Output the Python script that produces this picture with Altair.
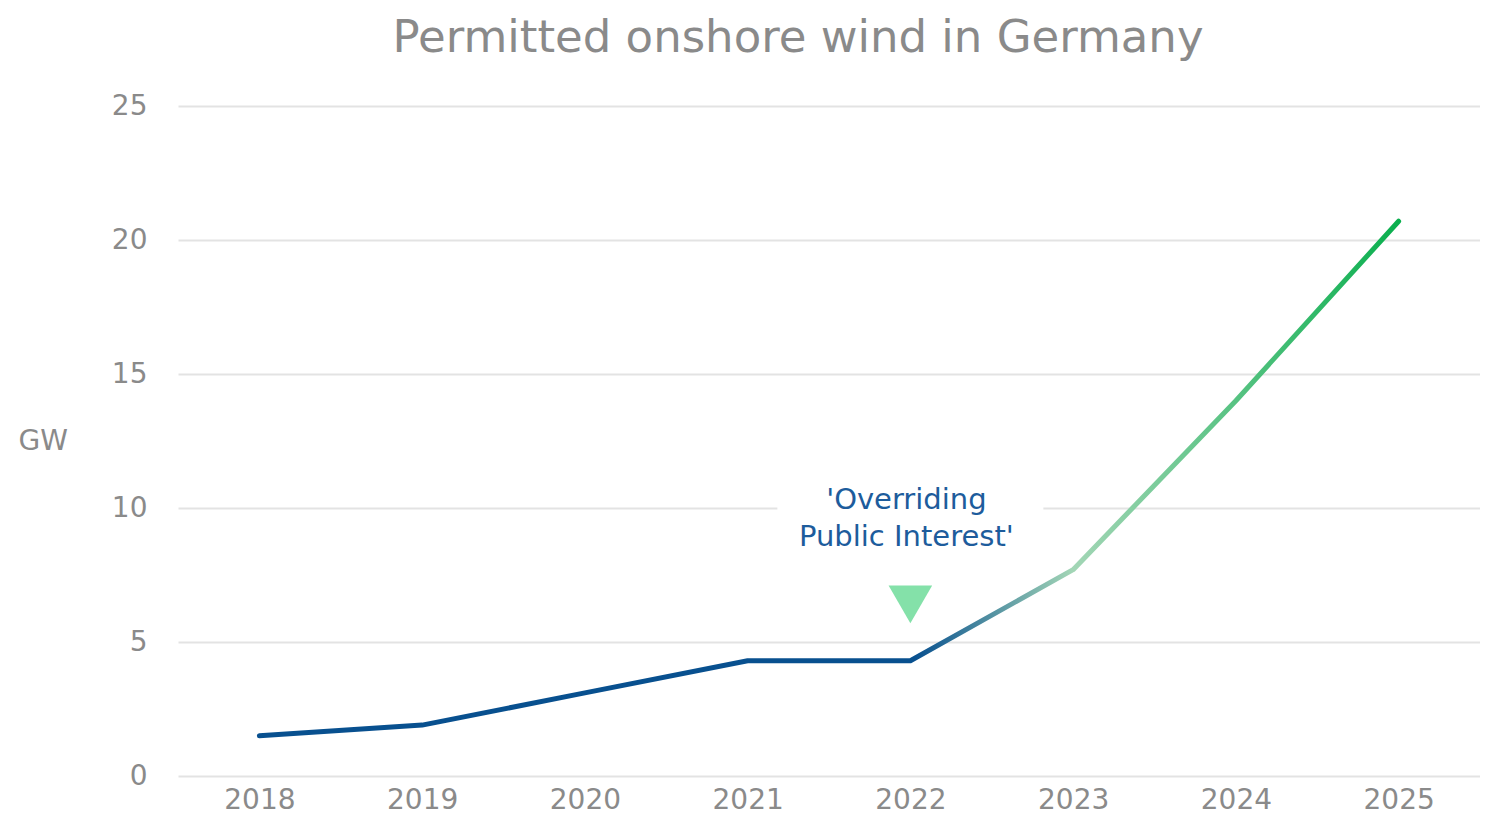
import altair as alt
import pandas as pd

years = ["2018", "2019", "2020", "2021", "2022", "2023", "2024", "2025"]
gw = [1.5, 1.9, 3.1, 4.3, 4.3, 7.7, 14.0, 20.7]

note_year = ["2022", "2022"]
note_lines = ["'Overriding", "Public Interest'"]
note_y = [10.3, 8.92]
box_year = ["2022"]
box_top = [11.4]
box_bottom = [8.4]
marker_year = ["2022"]
marker_y = [6.4]

FONT = "DejaVu Sans"
GREY = "#8a8a8a"

df = pd.DataFrame({"year": years, "gw": gw})
notes = pd.DataFrame({"year": note_year, "text": note_lines, "y": note_y})
box = pd.DataFrame({"year": box_year, "top": box_top, "bottom": box_bottom})
marker = pd.DataFrame({"year": marker_year, "y": marker_y})

xscale = alt.Scale(type="point", padding=0.5, domain=years)
xaxis = alt.Axis(title=None, labelAngle=0, labelFont=FONT, labelFontSize=28,
                 labelColor=GREY, labelPadding=10, ticks=False, domain=False, grid=False)
xenc = alt.X("year:O", sort=years, scale=xscale, axis=xaxis)

yscale = alt.Scale(domain=[0, 25], nice=False)
yaxis = alt.Axis(title="GW", titleAngle=0, titleFont=FONT, titleFontSize=28, titleFontWeight="normal",
                 titleColor=GREY, titleX=-160, titleY=335, titleAlign="left", titleBaseline="middle",
                 values=[0, 5, 10, 15, 20, 25], labelFont=FONT, labelFontSize=28, labelColor=GREY,
                 labelPadding=31, ticks=False, domain=False, gridColor="#e3e3e3", gridWidth=2)

line = alt.Chart(df).mark_line(
    strokeWidth=5, strokeCap="round", strokeJoin="round",
    color=alt.Gradient(gradient="linear", x1=0, x2=1, y1=0, y2=0,
                       stops=[alt.GradientStop(offset=0, color="#08508f"),
                              alt.GradientStop(offset=0.575, color="#08508f"),
                              alt.GradientStop(offset=0.714, color="#a3d6b6"),
                              alt.GradientStop(offset=1, color="#0aaf4e")])
).encode(x=xenc, y=alt.Y("gw:Q", scale=yscale, axis=yaxis))

boxm = alt.Chart(box).mark_bar(color="white", width=266).encode(
    x=xenc, y=alt.Y("top:Q", scale=yscale, axis=yaxis), y2="bottom:Q")

text = alt.Chart(notes).mark_text(font=FONT, fontSize=29, color="#1d5c9c", dx=-4).encode(
    x=xenc, y=alt.Y("y:Q", scale=yscale, axis=yaxis), text="text:N")

tri = alt.Chart(marker).mark_point(shape="triangle-down", filled=True, size=1900, opacity=1,
                                    color="#84e1a9").encode(
    x=xenc, y=alt.Y("y:Q", scale=yscale, axis=yaxis))

chart = alt.layer(line, boxm, text, tri).properties(
    width=1302, height=670,
    title=alt.TitleParams("Permitted onshore wind in Germany", font=FONT, fontSize=45,
                          fontWeight="normal", color=GREY, dx=-31, offset=31),
    autosize=alt.AutoSizeParams(type="none"),
    padding={"left": 170, "top": 98, "right": 0, "bottom": 39}
).configure_view(stroke=None)

chart.save("out.html", embed_options={"renderer": "svg", "actions": False})
